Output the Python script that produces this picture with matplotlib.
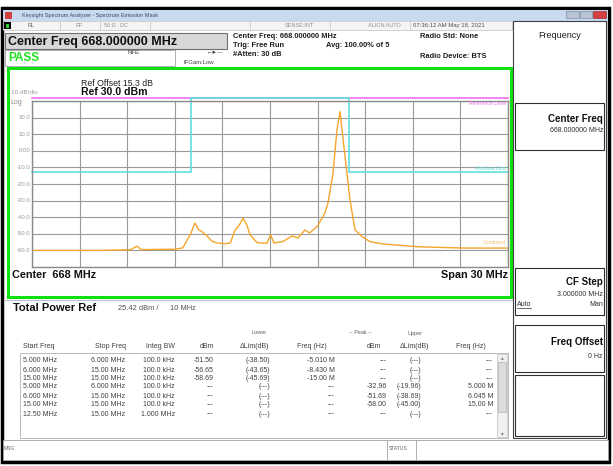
import matplotlib.pyplot as plt
from matplotlib.patches import Rectangle

plt.rcParams['font.family'] = ['Liberation Sans', 'DejaVu Sans']

# ---------------- data ----------------
center_mhz = 668.0
span_mhz = 30.0
ref_level = 30.0
db_per_div = 10.0

trace_freq = [653.0, 657.3, 659.2, 659.6, 659.9, 662.0, 662.5, 663.0, 663.27, 663.5,
              663.7, 664.0, 664.35, 664.65, 665.15, 665.5, 665.8, 666.05, 666.3, 666.55,
              666.75, 667.2, 667.8, 668.04, 668.25, 668.8, 669.4, 669.75, 670.2, 670.5,
              671.0, 671.45, 671.65, 671.97, 672.22, 672.41, 672.73, 673.04, 673.36, 673.8,
              674.3, 675.1, 677.3, 680.2, 683.0]
trace_dbm = [-60.0, -60.0, -59.6, -57.5, -59.5, -59.3, -58.5, -50.0, -43.5, -47.5,
             -48.7, -51.0, -54.5, -55.5, -56.0, -55.5, -47.7, -45.0, -40.5, -45.0,
             -50.7, -55.4, -55.7, -50.7, -55.5, -54.7, -51.3, -52.5, -47.7, -49.5,
             -45.3, -37.7, -31.6, -13.6, 12.5, 23.6, -3.5, -29.6, -47.7, -51.7,
             -54.7, -56.1, -57.8, -58.6, -58.6]

limit_freq = [653.0, 663.0, 663.0, 673.0, 673.0, 683.0]
limit_dbm = [-13.0, -13.0, 31.8, 31.8, -13.0, -13.0]
ref_line_dbm = 31.8

ytick_vals = [20, 10, 0, -10, -20, -30, -40, -50, -60]
ytick_text = ["20.0", "10.0", "0.00", "-10.0", "-20.0", "-30.0", "-40.0", "-50.0", "-60.0"]

col_start = ["5.000 MHz", "6.000 MHz", "15.00 MHz", "5.000 MHz", "6.000 MHz", "15.00 MHz", "12.50 MHz"]
col_stop = ["6.000 MHz", "15.00 MHz", "15.00 MHz", "6.000 MHz", "15.00 MHz", "15.00 MHz", "15.00 MHz"]
col_bw = ["100.0 kHz", "100.0 kHz", "100.0 kHz", "100.0 kHz", "100.0 kHz", "100.0 kHz", "1.000 MHz"]
col_low_dbm = ["-51.50", "-56.65", "-58.69", "---", "---", "---", "---"]
col_low_lim = ["(-38.50)", "(-43.65)", "(-45.69)", "(---)", "(---)", "(---)", "(---)"]
col_low_freq = ["-5.010 M", "-8.430 M", "-15.00 M", "---", "---", "---", "---"]
col_up_dbm = ["---", "---", "---", "-32.96", "-51.69", "-58.00", "---"]
col_up_lim = ["(---)", "(---)", "(---)", "(-19.96)", "(-38.69)", "(-45.00)", "(---)"]
col_up_freq = ["---", "---", "---", "5.000 M", "6.045 M", "15.00 M", "---"]

# ---------------- figure ----------------
W, H = 613, 466
fig = plt.figure(figsize=(W / 100, H / 100), dpi=100)
bg = fig.add_axes([0, 0, 1, 1])
bg.set_xlim(0, W)
bg.set_ylim(H, 0)
bg.axis('off')


def box(x0, y0, x1, y1, fc='none', ec='#505050', lw=0.8, z=1):
    bg.add_patch(Rectangle((x0, y0), x1 - x0, y1 - y0, facecolor=fc, edgecolor=ec, lw=lw, zorder=z))


def txt(x, y, s, size, color='#202020', ha='left', weight='normal', **kw):
    bg.text(x, y, s, fontsize=size, color=color, ha=ha, va='center', fontweight=weight, zorder=5, **kw)


# window frame, title bar, status row
box(2, 8, 609, 462, fc='white', ec='black', lw=2.5, z=0)
box(3, 10, 608, 21, fc='#c9d9ee', ec='none', z=1)
box(5, 12, 12, 19, fc='#d04040', ec='none', z=2)
txt(22, 15.5, "Keysight Spectrum Analyzer - Spectrum Emission Mask", 4, color='#3a4a70')
box(566, 11, 579, 18, fc='#b8c4d4', ec='#8090a8', lw=0.5, z=2)
box(580, 11, 592, 18, fc='#b8c4d4', ec='#8090a8', lw=0.5, z=2)
box(593, 11, 606, 18, fc='#d84040', ec='#903030', lw=0.5, z=2)

box(3, 21, 512, 30, fc='#f4f4f4', ec='#c0c0c0', lw=0.5)
box(4, 22, 11, 29, fc='black', ec='none', z=2)
box(6, 23.5, 9, 27.5, fc='#30d030', ec='none', z=3)
for xd in [60, 100, 150, 250, 330, 410]:
    bg.plot([xd, xd], [22, 29], color='#c0c0c0', lw=0.5)
txt(27, 25.5, "RL", 4, color='#606060')
txt(76, 25.5, "RF", 4, color='#909090')
txt(104, 25.5, "50 \u03a9   DC", 4, color='#909090')
txt(285, 25.5, "SENSE:INT", 4, color='#909090')
txt(368, 25.5, "ALIGN AUTO", 4, color='#909090')
txt(413, 25.5, "07:36:12 AM May 18, 2021", 4.3, color='#505050')

# header
box(5, 33, 227, 49, fc='#d8d8d8', ec='#707070', lw=0.8)
txt(8, 41.5, "Center Freq 668.000000 MHz", 9, color='#101010', weight='bold')
box(5, 50, 175, 66, fc='white', ec='#a0a0a0', lw=0.6)
txt(8, 58, "PASS", 8.5, color='#20e020', weight='bold')
txt(127, 52, "NFE", 4.3, color='#404040')
txt(184, 62, "IFGain:Low", 4.3, color='#404040')
txt(207, 52, "\u2190\u25ba\u2014", 4, color='#404040')
txt(233, 37, "Center Freq: 668.000000 MHz", 5.4, color='#202020', weight='bold')
txt(233, 45.5, "Trig: Free Run", 5.4, color='#202020', weight='bold')
txt(233, 55, "#Atten: 30 dB", 5.4, color='#202020', weight='bold')
txt(326, 45.5, "Avg: 100.00% of 5", 5.4, color='#202020', weight='bold')
txt(420, 37, "Radio Std: None", 5.4, color='#202020', weight='bold')
txt(420, 57, "Radio Device: BTS", 5.4, color='#202020', weight='bold')

# green measurement frame
box(8, 68, 511, 297, fc='white', ec='#10e010', lw=2.2, z=1)
txt(81, 83, "Ref Offset 15.3 dB", 6.3, color='#202020')
txt(81, 92, "Ref 30.0 dBm", 7.6, color='#101010', weight='bold')
txt(11, 92.5, "10 dB/div", 4.6, color='#9a9a9a')
txt(10, 102, "Log", 5, color='#8a8a8a')
txt(12, 275, "Center  668 MHz", 7.8, color='#101010', weight='bold')
txt(508, 275, "Span 30 MHz", 7.8, color='#101010', weight='bold', ha='right')

# spectrum graticule
ax = fig.add_axes([32 / W, 1 - 267 / H, 476 / W, 166 / H])
ax.set_xlim(center_mhz - span_mhz / 2, center_mhz + span_mhz / 2)
ax.set_ylim(ref_level - 10 * db_per_div, ref_level)
ax.set_xticks([center_mhz - span_mhz / 2 + i * span_mhz / 10 for i in range(11)])
ax.set_yticks([ref_level - i * db_per_div for i in range(11)])
ax.grid(True, color='#9a9a9a', lw=0.8)
ax.tick_params(length=0, labelbottom=False, labelleft=False)
for sp in ax.spines.values():
    sp.set_color('#8a8a8a')
    sp.set_linewidth(1)
ax.set_facecolor('white')
for v, s in zip(ytick_vals, ytick_text):
    ax.text(-0.004, v, s, transform=ax.get_yaxis_transform(), ha='right', va='center',
            fontsize=4.3, color='#9a9a9a')
ax.axhline(ref_line_dbm, color='#f070f0', lw=1.2, clip_on=False)
ax.plot(limit_freq, limit_dbm, color='#60e0e0', lw=1.2, clip_on=False)
ax.plot(trace_freq, trace_dbm, color='#f4a52a', lw=1.0)
ax.text(682.9, 28.2, "Reference Level", fontsize=3.6, color='#f070f0', ha='right', va='center')
ax.text(682.9, -10.8, "Absolute Limit", fontsize=3.6, color='#60e0e0', ha='right', va='center')
ax.text(682.9, -55.5, "Combined", fontsize=3.6, color='#f4c070', ha='right', va='center')

# result table
bg.plot([4, 512], [300, 300], color='#c0c0c0', lw=0.8)
txt(13, 308, "Total Power Ref", 8, color='#101010', weight='bold')
txt(118, 308, "25.42 dBm /", 5.4, color='#505050')
txt(170, 308, "10 MHz", 5.4, color='#505050')

hfs = 5
txt(259, 333, "Lower", 4, color='#606060', ha='center')
txt(360, 333, "-- Peak --", 4, color='#606060', ha='center')
txt(415, 333, "Upper", 4, color='#606060', ha='center')
txt(23, 347, "Start Freq", hfs, color='#404040')
txt(95, 347, "Stop Freq", hfs, color='#404040')
txt(161, 347, "Integ BW", hfs, color='#404040', ha='center')
txt(207, 347, "dBm", hfs, color='#404040', ha='center')
txt(255, 347, "\u0394Lim(dB)", hfs, color='#404040', ha='center')
txt(312, 347, "Freq (Hz)", hfs, color='#404040', ha='center')
txt(374, 347, "dBm", hfs, color='#404040', ha='center')
txt(414, 347, "\u0394Lim(dB)", hfs, color='#404040', ha='center')
txt(471, 347, "Freq (Hz)", hfs, color='#404040', ha='center')

box(20, 353, 508, 438, fc='white', ec='#b0b0b0', lw=0.6)
box(497, 354, 507, 437, fc='#f0f0f0', ec='#c0c0c0', lw=0.5, z=2)
box(498, 362, 506, 412, fc='#dcdcdc', ec='#b0b0b0', lw=0.5, z=3)
txt(502, 357.5, "\u25b4", 4, color='#808080', ha='center')
txt(502, 433.5, "\u25be", 4, color='#808080', ha='center')

row_y = [361, 370, 378.5, 387, 396, 405, 414]
tfs = 5
tc = '#404040'
for i, y in enumerate(row_y):
    txt(23, y, col_start[i], tfs, color=tc)
    txt(91, y, col_stop[i], tfs, color=tc)
    txt(175, y, col_bw[i], tfs, color=tc, ha='right')
    txt(214, y, col_low_dbm[i], tfs, color=tc, ha='right')
    txt(270, y, col_low_lim[i], tfs, color=tc, ha='right')
    txt(335, y, col_low_freq[i], tfs, color=tc, ha='right')
    txt(387, y, col_up_dbm[i], tfs, color=tc, ha='right')
    txt(421, y, col_up_lim[i], tfs, color=tc, ha='right')
    txt(493, y, col_up_freq[i], tfs, color=tc, ha='right')

# bottom status bar
box(3, 440, 608, 460, fc='white', ec='#a0a0a0', lw=0.6)
bg.plot([387, 387], [440, 460], color='#a0a0a0', lw=0.6)
bg.plot([416, 416], [440, 460], color='#a0a0a0', lw=0.6)
txt(4, 448, "MSG", 3.6, color='#606060')
txt(389, 448, "STATUS", 3.6, color='#606060')

# softkey panel
box(513, 21, 606, 438, fc='white', ec='#404040', lw=0.8)
txt(560, 35, "Frequency", 6.5, color='#202020', ha='center')
for y0, y1 in [(103, 150), (268, 315), (325, 372), (375, 436)]:
    box(515, y0, 604, y1, fc='white', ec='#303030', lw=0.8, z=2)
txt(603, 119, "Center Freq", 7, color='#101010', ha='right', weight='bold')
txt(603, 131, "668.000000 MHz", 5, color='#303030', ha='right')
txt(603, 282, "CF Step", 7, color='#101010', ha='right', weight='bold')
txt(603, 294, "3.000000 MHz", 5, color='#303030', ha='right')
txt(517, 304, "Auto", 5, color='#303030')
bg.plot([517, 531], [307.5, 307.5], color='#303030', lw=0.5, zorder=5)
txt(603, 304, "Man", 5, color='#303030', ha='right')
txt(603, 342, "Freq Offset", 7, color='#101010', ha='right', weight='bold')
txt(603, 356, "0 Hz", 5, color='#303030', ha='right')

fig.savefig("out.png", dpi=100)
